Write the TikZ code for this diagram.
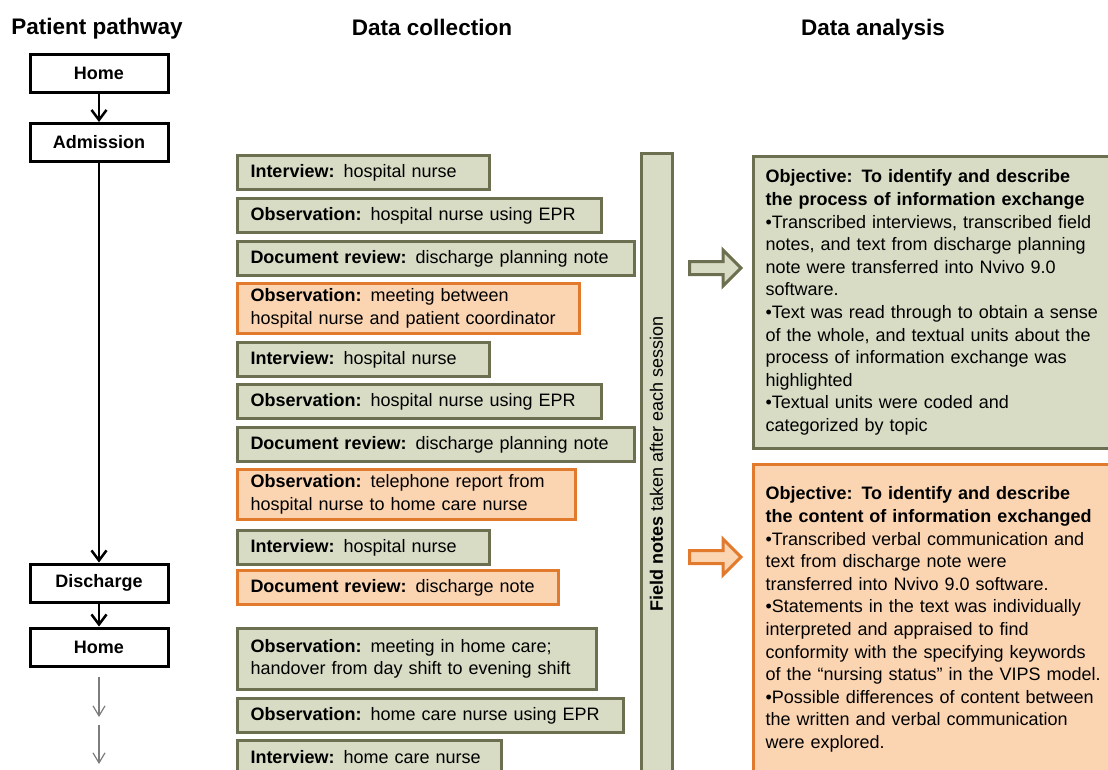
\documentclass[tikz,border=0pt]{standalone}
\usepackage{fontspec}
\setmainfont{Liberation Sans}
\usepackage{tikz}
\usetikzlibrary{arrows.meta}

\definecolor{olivefill}{RGB}{216,220,197}
\definecolor{oliveline}{RGB}{108,112,80}
\definecolor{peachfill}{RGB}{251,213,178}
\definecolor{peachline}{RGB}{226,122,46}
\definecolor{thinarrow}{RGB}{125,125,125}

\tikzset{
  headline/.style={anchor=base, font=\fontsize{22.5}{26}\selectfont\bfseries},
  pathbox/.style={draw, line width=3, minimum width=138, minimum height=38, inner sep=0, font=\fontsize{18}{22.6}\selectfont\bfseries},
  patharrow/.style={line width=2.5, -{Straight Barb[length=10, width=15]}},
  grayarrow/.style={draw=thinarrow, line width=1.2, -{Straight Barb[length=10, width=12]}},
  gbox/.style={draw=oliveline, fill=olivefill, line width=3, anchor=north west, inner xsep=13, inner ysep=0, align=left, minimum height=34},
  obox/.style={gbox, draw=peachline, fill=peachfill},
  gblock/.style={draw=oliveline, fill=olivefill, line width=3, line join=miter},
  oblock/.style={gblock, draw=peachline, fill=peachfill},
  rbox/.style={line width=3, anchor=north west, inner xsep=12, inner ysep=0, align=left, text width=360},
}

\begin{document}
\begin{tikzpicture}[x=1pt, y=-1pt, font=\fontsize{18}{22.6}\selectfont]
\useasboundingbox (0,0) rectangle (1108,769);
\clip (0,0) rectangle (1108,769);

%titles
\node[headline] (tpath) at (97,34) {Patient pathway};
\node[headline] (tcoll) at (432,35) {Data collection};
\node[headline] (tanal) at (873,35) {Data analysis};

%patient pathway
\node[pathbox] (home1) at (99,73) {Home};
\node[pathbox] (adm) at (99,142.5) {Admission};
\node[pathbox] (dis) at (99,583) {Discharge};
\node[pathbox] (home2) at (99,647) {Home};
\draw[patharrow] (home1) -- (adm);
\draw[patharrow] (adm) -- (dis);
\draw[patharrow] (dis) -- (home2);

\coordinate (g1) at (99,677);
\coordinate (g2) at (99,717);
\coordinate (g3) at (99,725);
\coordinate (g4) at (99,764);
\draw[grayarrow] (g1) -- (g2);
\draw[grayarrow] (g3) -- (g4);

%data collection
\node[gbox, text width=226] (int1) at (236,154) {\textbf{Interview:} hospital nurse};
\node[gbox, text width=338] (obs1) at (236,197) {\textbf{Observation:} hospital nurse using EPR};
\node[gbox, text width=371] (doc1) at (236,240) {\textbf{Document review:} discharge planning note};
\node[obox, text width=316, minimum height=50] (obs2) at (236,282) {\textbf{Observation:} meeting between\\hospital nurse and patient coordinator};
\node[gbox, text width=226] (int2) at (236,341) {\textbf{Interview:} hospital nurse};
\node[gbox, text width=338] (obs3) at (236,383) {\textbf{Observation:} hospital nurse using EPR};
\node[gbox, text width=371] (doc2) at (236,426) {\textbf{Document review:} discharge planning note};
\node[obox, text width=312, minimum height=50] (obs4) at (236,468) {\textbf{Observation:} telephone report from\\hospital nurse to home care nurse};
\node[gbox, text width=226] (int3) at (236,529) {\textbf{Interview:} hospital nurse};
\node[obox, text width=295] (doc3) at (236,569) {\textbf{Document review:} discharge note};
\node[gbox, text width=333, minimum height=61] (obs5) at (236,627) {\textbf{Observation:} meeting in home care;\\handover from day shift to evening shift};
\node[gbox, text width=360] (obs6) at (236,697) {\textbf{Observation:} home care nurse using EPR};
\node[gbox, text width=238] (int4) at (236,739) {\textbf{Interview:} home care nurse};

%field notes
\node[draw=oliveline, fill=olivefill, line width=3, rotate=90, minimum width=622, minimum height=31, inner sep=0] (notes) at (656.5,464) {\textbf{Field notes} taken after each session};

%block arrows
\draw[gblock] (689.5,261.5) -- (723,261.5) -- (723,250) -- (741,268) -- (723,286) -- (723,274.5) -- (689.5,274.5) -- cycle;
\draw[oblock] (689.5,550.5) -- (723,550.5) -- (723,539) -- (741,557) -- (723,575) -- (723,563.5) -- (689.5,563.5) -- cycle;

%data analysis
\node[rbox, draw=oliveline, fill=olivefill, minimum height=292] (process) at (752,155) {%
\textbf{Objective: To identify and describe}\\
\textbf{the process of information exchange}\\
•Transcribed interviews, transcribed field\\
notes, and text from discharge planning\\
note were transferred into Nvivo 9.0\\
software.\\
•Text was read through to obtain a sense\\
of the whole, and textual units about the\\
process of information exchange was\\
highlighted\\
•Textual units were coded and\\
categorized by topic};
\node[rbox, draw=peachline, fill=peachfill, minimum height=310] (content) at (752,463) {%
\textbf{Objective: To identify and describe}\\
\textbf{the content of information exchanged}\\
•Transcribed verbal communication and\\
text from discharge note were\\
transferred into Nvivo 9.0 software.\\
•Statements in the text was individually\\
interpreted and appraised to find\\
conformity with the specifying keywords\\
of the “nursing status” in the VIPS model.\\
•Possible differences of content between\\
the written and verbal communication\\
were explored.};

\end{tikzpicture}
\end{document}
